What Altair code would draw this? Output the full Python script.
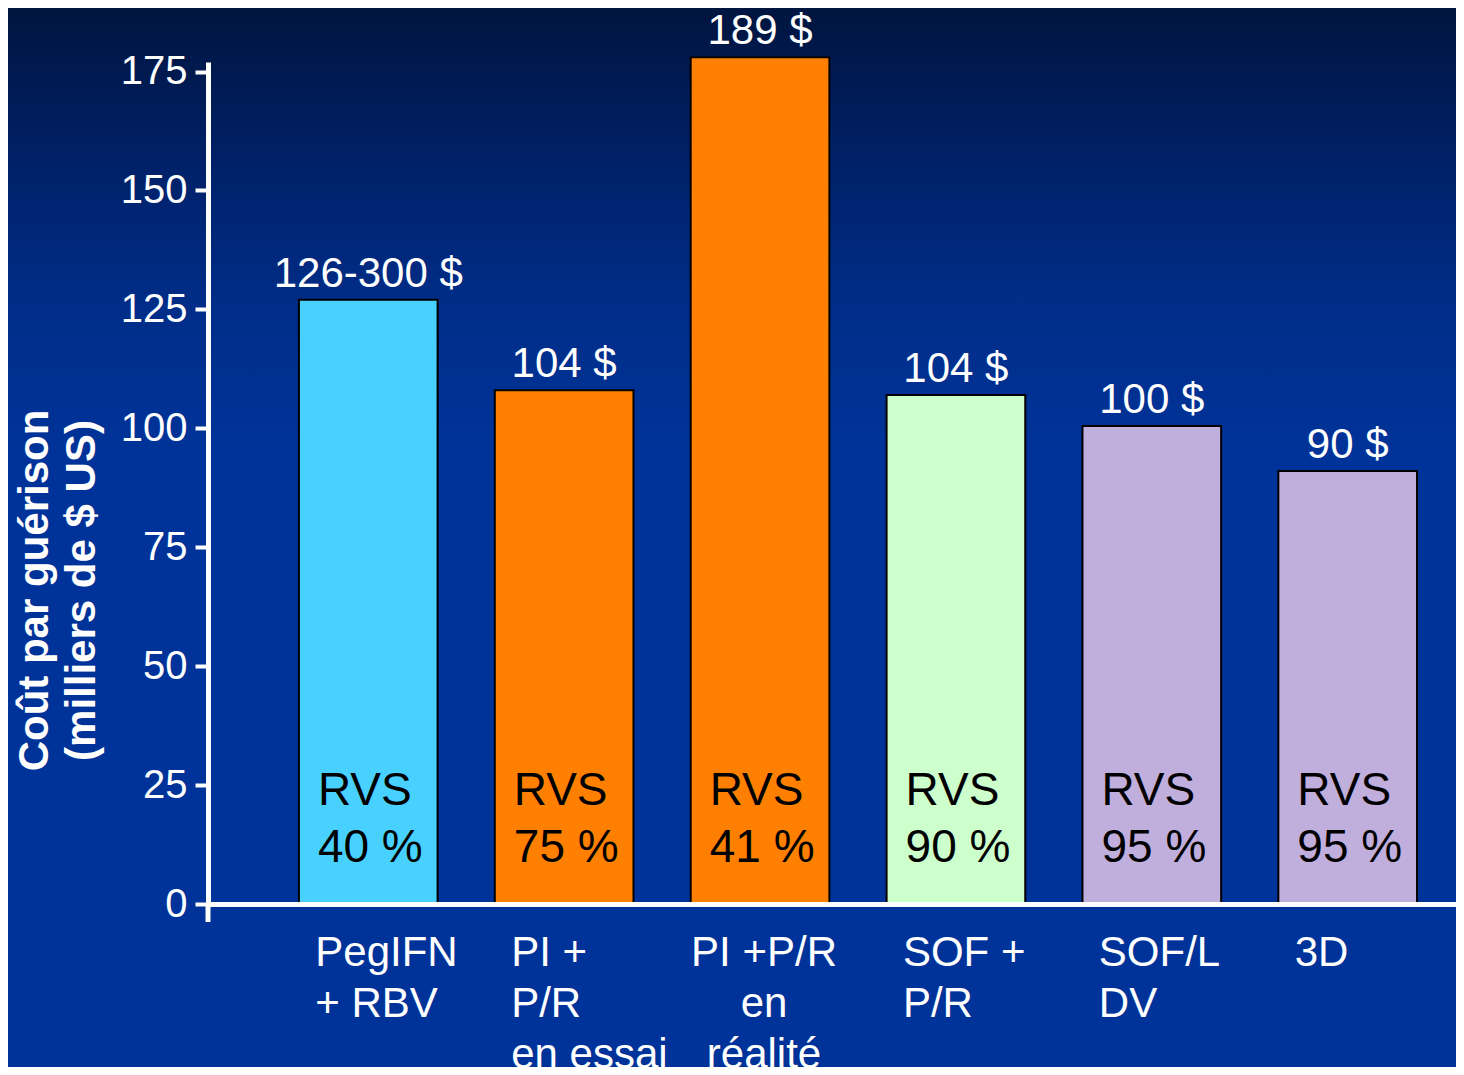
import altair as alt
import pandas as pd

# ---- data ----
categories = [
    "PegIFN\n+ RBV",
    "PI +\nP/R\nen essai",
    "PI +P/R\nen\nréalité",
    "SOF +\nP/R",
    "SOF/L\nDV",
    "3D",
]
cost_values = [127, 108, 178, 107, 100.5, 91]          # bar heights (thousands US$)
cost_labels = ["126-300 $", "104 $", "189 $", "104 $", "100 $", "90 $"]
svr_labels = ["RVS\n40 %", "RVS\n75 %", "RVS\n41 %", "RVS\n90 %", "RVS\n95 %", "RVS\n95 %"]
y_ticks = [0, 25, 50, 75, 100, 125, 150, 175]

bar_colors = ["#48D1FF", "#FF8000", "#FF8000", "#CCFFCC", "#C0AEDD", "#C0AEDD"]

df = pd.DataFrame({
    "cat": categories,
    "value": cost_values,
    "cost": cost_labels,
    "svr": svr_labels,
})

FONT = "Liberation Sans"
W, H = 1248, 842

xscale = alt.Scale(domain=categories, paddingInner=0.292, paddingOuter=0.3315, align=0.7)
yscale = alt.Scale(domain=[0, 177], nice=False, zero=True)

xaxis = alt.Axis(
    title=None,
    zindex=2,
    labelExpr="split(datum.label, '\\n')",
    labelColor="white",
    labelFont=FONT,
    labelFontSize=42,
    labelLineHeight=51,
    labelBaseline="top",
    labelAlign=alt.ConditionalAxisLabelAlign(
        condition={"test": "indexof(datum.label, 'réalité') >= 0", "value": "center"},
        value="left",
    ),
    labelOffset=alt.ConditionalAxisNumber(
        condition={"test": "indexof(datum.label, 'réalité') >= 0", "value": 4},
        value=-53,
    ),
    labelPadding=28,
    labelAngle=0,
    labelOverlap=False,
    labelFlush=False,
    labelBound=False,
    labelLimit=0,
    ticks=False,
    tickSize=0,
    domainColor="white",
    domainWidth=5,
    grid=False,
)

yaxis = alt.Axis(
    title=["Coût par guérison", "(milliers de $ US)"],
    zindex=2,
    titleFont=FONT,
    titleFontSize=42,
    titleFontWeight="bold",
    titleColor="white",
    titleLineHeight=47,
    titleAngle=270,
    titleAlign="center",
    titleBaseline="middle",
    titleX=-174,
    titleY=528,
    values=y_ticks,
    labelColor="white",
    labelFont=FONT,
    labelFontSize=40,
    labelPadding=8,
    tickColor="white",
    tickWidth=4,
    tickSize=13,
    domainColor="white",
    domainWidth=5,
    grid=False,
)

xenc = alt.X("cat:N", sort=None, scale=xscale, axis=xaxis)
yenc = alt.Y("value:Q", scale=yscale, axis=yaxis)

# decorative background gradient
bg = alt.Chart(pd.DataFrame({"a": [0]})).mark_rect(
    color=alt.Gradient(
        gradient="linear",
        x1=0, y1=0, x2=0, y2=1,
        stops=[
            alt.GradientStop(offset=0, color="#00153F"),
            alt.GradientStop(offset=0.14, color="#002066"),
            alt.GradientStop(offset=0.28, color="#002D88"),
            alt.GradientStop(offset=0.42, color="#003399"),
            alt.GradientStop(offset=1, color="#003399"),
        ],
    )
).encode(
    x=alt.value(-200), x2=alt.value(W), y=alt.value(-54), y2=alt.value(H + 163)
)

base = alt.Chart(df)

bars = base.mark_bar(stroke="black", strokeWidth=2, opacity=1).encode(
    x=xenc,
    y=yenc,
    color=alt.Color("cat:N", sort=None,
                    scale=alt.Scale(domain=categories, range=bar_colors),
                    legend=None),
)

cost_text = base.mark_text(
    font=FONT, fontSize=42, color="white", baseline="alphabetic", align="center", dy=-13
).encode(x=xenc, y=yenc, text="cost:N")

svr_text = base.mark_text(
    font=FONT, fontSize=46, color="black", baseline="top", align="left",
    lineBreak="\n", lineHeight=57, dx=19,
).encode(
    x=alt.X("cat:N", sort=None, scale=xscale, axis=xaxis, bandPosition=0),
    y=alt.datum(28.3),
    text="svr:N",
)

# small extension of the y axis line below zero, as on the slide
axis_ext = alt.Chart(pd.DataFrame({"a": [0]})).mark_rule(color="white", strokeWidth=5).encode(
    x=alt.value(0), y=alt.value(H), y2=alt.value(H + 18)
)

chart = alt.layer(bg, bars, cost_text, svr_text, axis_ext).properties(
    width=W,
    height=H,
    autosize=alt.AutoSizeParams(type="none"),
    padding={"left": 200, "top": 54, "right": 0, "bottom": 163},
    background="#003399",
).configure_view(strokeWidth=0).configure(font=FONT)

chart.save("out.html", embed_options={"renderer": "svg", "actions": False})
